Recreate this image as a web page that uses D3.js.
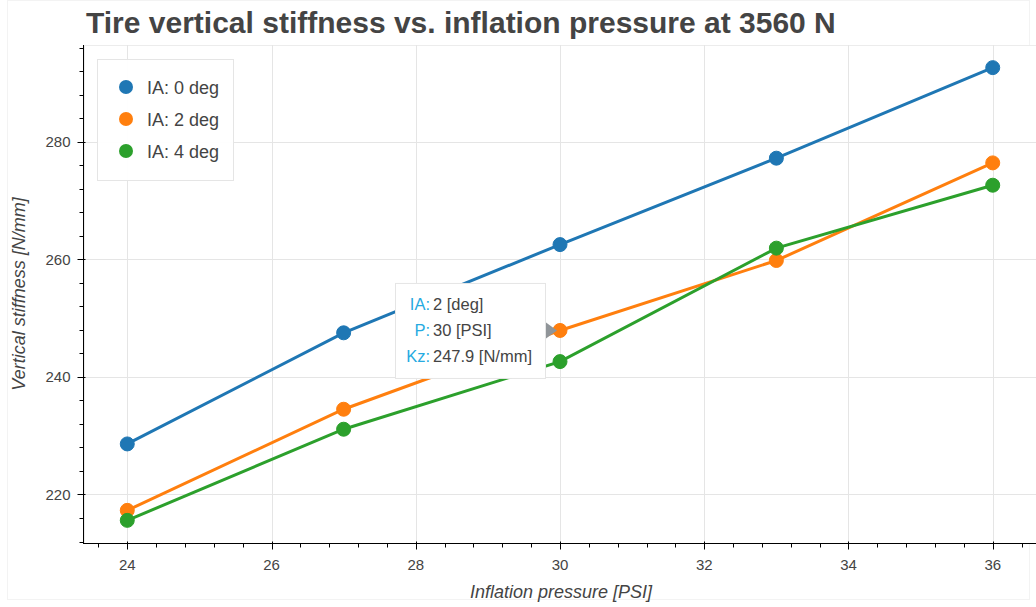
<!DOCTYPE html>
<html><head><meta charset="utf-8">
<script src="https://cdn.jsdelivr.net/npm/d3@7"></script>
<style>body{margin:0;background:#fff;}svg{display:block;font-family:"Liberation Sans",Arial,Helvetica,sans-serif;}</style>
</head><body>
<svg id="chart" width="1036" height="607"></svg>
<script>
const pressures = [24, 27, 30, 33, 36];
const seriesNames = ["IA: 0 deg", "IA: 2 deg", "IA: 4 deg"];
const ia0 = [228.6, 247.5, 262.5, 277.2, 292.6];
const ia2 = [217.3, 234.5, 247.9, 259.8, 276.4];
const ia4 = [215.6, 231.1, 242.6, 261.9, 272.6];
const colors = ["#1f77b4", "#ff7f0e", "#2ca02c"];
const xTicks = [24, 26, 28, 30, 32, 34, 36];
const yTicks = [220, 240, 260, 280];
const tooltipRows = [["IA:", "2 [deg]"], ["P:", "30 [PSI]"], ["Kz:", "247.9 [N/mm]"]];
const tooltipPoint = {x: 30, y: 247.9};

const series = [ia0, ia2, ia4];
const svg = d3.select("#chart");
const L = 84, R = 1036, T = 45, B = 543;

const xmin = d3.min(pressures), xmax = d3.max(pressures);
const xpad = (xmax - xmin) * 0.05;
const all = series.flat();
const ymin = d3.min(all), ymax = d3.max(all);
const ypad = (ymax - ymin) * 0.05;
const x = d3.scaleLinear().domain([xmin - xpad, xmax + xpad]).range([L, R]);
const y = d3.scaleLinear().domain([ymin - ypad, ymax + ypad]).range([B, T]);

// outer faint border
svg.append("rect").attr("x", 7.5).attr("y", 0.5).attr("width", 1022).attr("height", 599)
  .attr("fill", "none").attr("stroke", "#f3f3f3");
// plot outline
svg.append("rect").attr("x", L + 0.5).attr("y", T + 0.5).attr("width", R - L).attr("height", B - T)
  .attr("fill", "#fff").attr("stroke", "#ececec");

// grid
svg.append("g").selectAll("line").data(xTicks).join("line")
  .attr("x1", d => Math.round(x(d)) + 0.5).attr("x2", d => Math.round(x(d)) + 0.5)
  .attr("y1", T).attr("y2", B).attr("stroke", "#e5e5e5");
svg.append("g").selectAll("line").data(yTicks).join("line")
  .attr("y1", d => Math.round(y(d)) + 0.5).attr("y2", d => Math.round(y(d)) + 0.5)
  .attr("x1", L).attr("x2", R).attr("stroke", "#e5e5e5");

// minor ticks
const xMinor = d3.range(xTicks[0] - 2, xTicks[xTicks.length - 1] + 2.01, 0.4)
  .filter(v => v >= x.domain()[0] && v <= x.domain()[1] && Math.abs((v / 2) - Math.round(v / 2)) > 1e-6);
const yMinor = d3.range(yTicks[0] - 20, yTicks[yTicks.length - 1] + 20.01, 4)
  .filter(v => v >= y.domain()[0] && v <= y.domain()[1] && v % 20 !== 0);

// x axis
const gx = svg.append("g").attr("transform", `translate(0,${B + 0.5})`);
gx.append("line").attr("x1", L).attr("x2", R).attr("stroke", "#000");
gx.selectAll(".maj").data(xTicks).join("line").attr("class", "maj")
  .attr("x1", d => Math.round(x(d)) + 0.5).attr("x2", d => Math.round(x(d)) + 0.5)
  .attr("y1", -2).attr("y2", 6).attr("stroke", "#000");
gx.selectAll(".min").data(xMinor).join("line").attr("class", "min")
  .attr("x1", d => Math.round(x(d)) + 0.5).attr("x2", d => Math.round(x(d)) + 0.5)
  .attr("y1", 0).attr("y2", 4).attr("stroke", "#000");
gx.selectAll("text").data(xTicks).join("text")
  .attr("x", d => x(d)).attr("y", 26).attr("text-anchor", "middle")
  .attr("font-size", 15).attr("fill", "#444").text(d => d);

// y axis
const gy = svg.append("g").attr("transform", `translate(${L - 0.5},0)`);
gy.append("line").attr("y1", T).attr("y2", B + 1).attr("stroke", "#000");
gy.selectAll(".maj").data(yTicks).join("line").attr("class", "maj")
  .attr("y1", d => Math.round(y(d)) + 0.5).attr("y2", d => Math.round(y(d)) + 0.5)
  .attr("x1", -6).attr("x2", 2).attr("stroke", "#000");
gy.selectAll(".min").data(yMinor).join("line").attr("class", "min")
  .attr("y1", d => Math.round(y(d)) + 0.5).attr("y2", d => Math.round(y(d)) + 0.5)
  .attr("x1", -4).attr("x2", 0).attr("stroke", "#000");
gy.selectAll("text").data(yTicks).join("text")
  .attr("x", -13).attr("y", d => y(d) + 5.5).attr("text-anchor", "end")
  .attr("font-size", 15).attr("fill", "#444").text(d => d);

// axis labels
svg.append("text").attr("x", 561).attr("y", 598).attr("text-anchor", "middle")
  .attr("font-size", 18).attr("font-style", "italic").attr("fill", "#444").text("Inflation pressure [PSI]");
svg.append("text").attr("transform", `translate(25,${(T + B) / 2}) rotate(-90)`).attr("text-anchor", "middle")
  .attr("font-size", 18).attr("font-style", "italic").attr("fill", "#444").text("Vertical stiffness [N/mm]");

// title
svg.append("text").attr("x", 86).attr("y", 33).attr("font-size", 30).attr("font-weight", "bold")
  .attr("fill", "#444").text("Tire vertical stiffness vs. inflation pressure at 3560 N");

// lines + points
const line = d3.line().x((d, i) => x(pressures[i])).y(d => y(d));
series.forEach((s, k) => {
  svg.append("path").datum(s).attr("d", line).attr("fill", "none")
    .attr("stroke", colors[k]).attr("stroke-width", 3);
});
series.forEach((s, k) => {
  svg.append("g").selectAll("circle").data(s).join("circle")
    .attr("cx", (d, i) => x(pressures[i])).attr("cy", d => y(d)).attr("r", 7)
    .attr("fill", colors[k]).attr("stroke", colors[k]).attr("stroke-width", 1);
});

// legend
const lg = svg.append("g");
lg.append("rect").attr("x", 97.5).attr("y", 59.5).attr("width", 136).attr("height", 121)
  .attr("fill", "#fff").attr("fill-opacity", 0.95).attr("stroke", "#e5e5e5");
seriesNames.forEach((n, k) => {
  const cy = 87 + k * 32;
  lg.append("circle").attr("cx", 126).attr("cy", cy).attr("r", 7).attr("fill", colors[k]);
  lg.append("text").attr("x", 147).attr("y", cy + 6.5).attr("font-size", 18).attr("fill", "#444").text(n);
});

// tooltip
const tx = x(tooltipPoint.x), ty = y(tooltipPoint.y);
const tw = 150, th = 95;
const bx = tx - 15 - tw, by = ty - th / 2;
const tt = svg.append("g");
tt.append("rect").attr("x", bx + 0.5).attr("y", by + 0.5).attr("width", tw).attr("height", th)
  .attr("fill", "#fff").attr("stroke", "#e5e5e5");
tt.append("path").attr("d", `M${bx + tw + 1},${ty - 8} L${bx + tw + 12},${ty} L${bx + tw + 1},${ty + 8} Z`)
  .attr("fill", "#909599");
tooltipRows.forEach((r, i) => {
  const yy = by + 27.5 + i * 26;
  tt.append("text").attr("x", bx + 35).attr("y", yy).attr("text-anchor", "end")
    .attr("font-size", 16.5).attr("fill", "#26aae1").text(r[0]);
  tt.append("text").attr("x", bx + 38).attr("y", yy)
    .attr("font-size", 16.5).attr("fill", "#444").text(r[1]);
});
</script>
</body></html>
